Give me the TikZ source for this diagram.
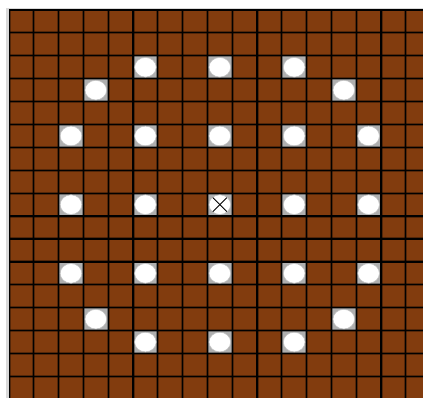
\documentclass[tikz,border=0pt]{standalone}
\definecolor{boardbrown}{RGB}{130,60,14}
\definecolor{cornergray}{RGB}{175,175,175}
\tikzset{
  gridhalo/.style={black, opacity=0.35, line width=3pt},
  gridline/.style={black, line width=1.2pt},
  holecorner/.style={fill=cornergray},
  hole/.style={fill=white, draw=gray!50, line width=0.5pt},
  crossline/.style={black, line width=0.9pt}
}
\begin{document}
\begin{tikzpicture}[x=1pt,y=-1pt]
\useasboundingbox (0,0) rectangle (423,398);
\fill[white] (0,0) rectangle (423,398);
\fill[gray!30] (6,8) rectangle (9,398);
\fill[gray!30] (6,8) rectangle (423,10);
\begin{scope}
\clip (9,10) rectangle (423,398);
\def\cw{24.8}
\def\ch{22.9}
\fill[boardbrown] (9,10) rectangle (9+17*\cw,10+17*\ch);
% holes
\foreach \c/\r in {5/2,8/2,11/2,3/3,13/3,2/5,5/5,8/5,11/5,14/5,2/8,5/8,8/8,11/8,14/8,2/11,5/11,8/11,11/11,14/11,3/13,13/13,5/14,8/14,11/14}{
  \pgfmathsetmacro{\xa}{9+\c*\cw}
  \pgfmathsetmacro{\ya}{10+\r*\ch}
  \fill[holecorner] (\xa,\ya) rectangle ++(\cw,\ch);
}
% grid
\foreach \i in {0,...,17}{
  \draw[gridhalo] (9+\i*\cw,10) -- (9+\i*\cw,10+17*\ch);
  \draw[gridhalo] (9,10+\i*\ch) -- (9+17*\cw,10+\i*\ch);
}
\foreach \i in {0,...,17}{
  \draw[gridline] (9+\i*\cw,10) -- (9+\i*\cw,10+17*\ch);
  \draw[gridline] (9,10+\i*\ch) -- (9+17*\cw,10+\i*\ch);
}
% hole discs
\foreach \c/\r in {5/2,8/2,11/2,3/3,13/3,2/5,5/5,8/5,11/5,14/5,2/8,5/8,8/8,11/8,14/8,2/11,5/11,8/11,11/11,14/11,3/13,13/13,5/14,8/14,11/14}{
  \pgfmathsetmacro{\xm}{9+\c*\cw+\cw/2}
  \pgfmathsetmacro{\ym}{10+\r*\ch+\ch/2}
  \fill[hole] (\xm,\ym) ellipse [x radius=10.8, y radius=9.8];
}
% cross in centre hole
\coordinate (ctr) at (9+8.5*\cw,10+8.5*\ch);
\draw[crossline] ([shift={(-7,-7)}]ctr) -- ([shift={(7,7)}]ctr);
\draw[crossline] ([shift={(-7,7)}]ctr) -- ([shift={(7,-7)}]ctr);
\end{scope}
\end{tikzpicture}
\end{document}
